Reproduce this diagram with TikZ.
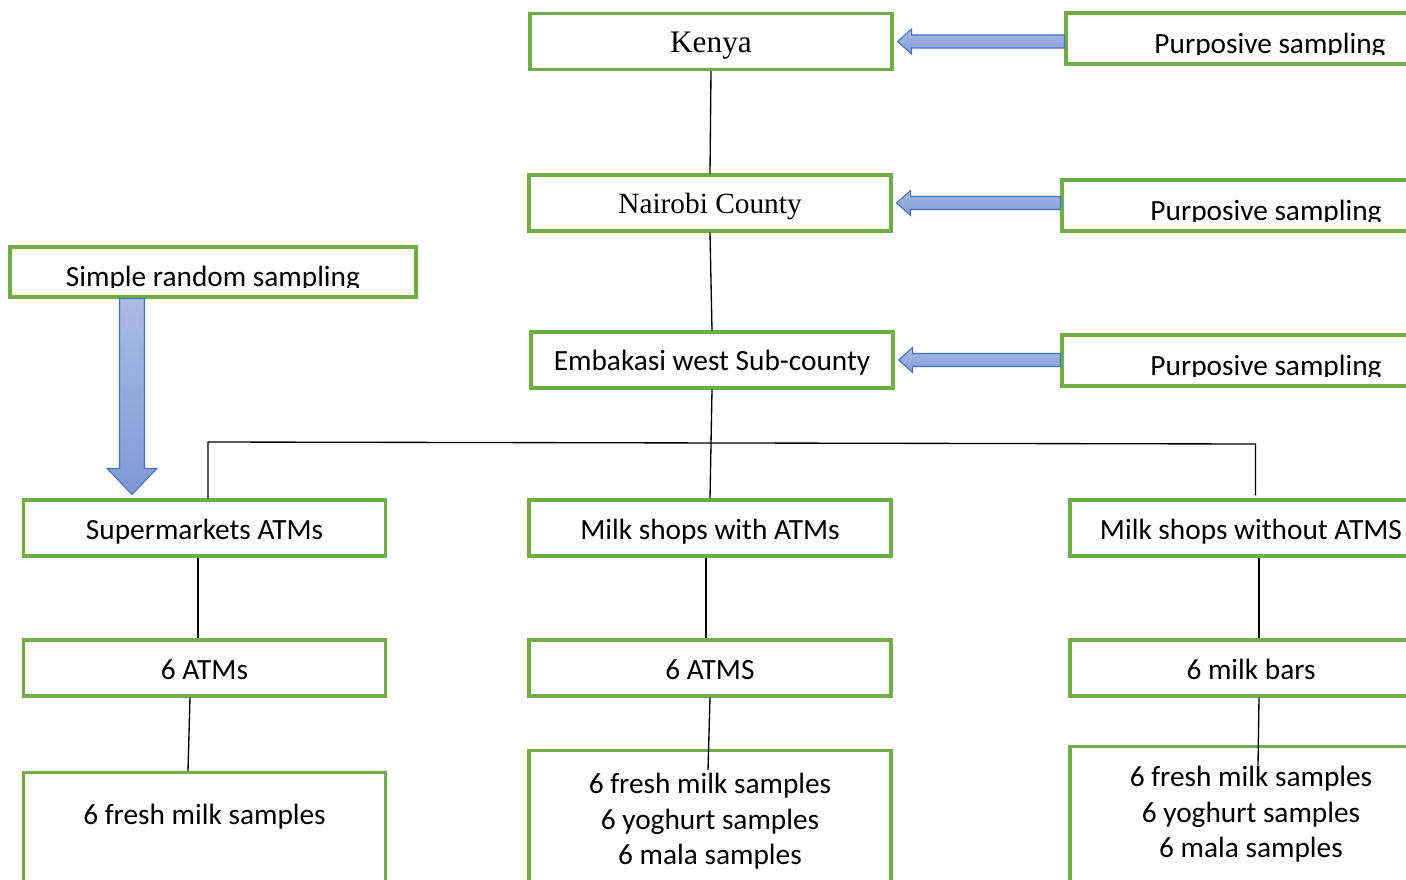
\documentclass[tikz,border=0pt]{standalone}
\usepackage{fontspec}
\setmainfont{Carlito}
\newfontfamily\timesfont{Liberation Serif}
\usepackage{xcolor}
\usetikzlibrary{positioning,calc}

\definecolor{boxgreen}{HTML}{70AD47}
\definecolor{arrowblue}{HTML}{4472C4}
\definecolor{arrowtop}{HTML}{ABBCE4}
\definecolor{arrowbot}{HTML}{8099D6}

% block arrow pointing left, from sampling box #1 to box #2
\newcommand{\leftblock}[2]{%
  \draw[blockarrow] (#1.west |- #2.east) ++(0,6.5) -- ($(#2.east)+(18,6.5)$) -- ++(0,6)
    -- ($(#2.east)+(4,0)$) -- ($(#2.east)+(18,-12.5)$) -- ++(0,6)
    -- ($(#1.west |- #2.east)+(0,-6.5)$) -- cycle;}

\begin{document}
\begin{tikzpicture}[
  x=0.75pt, y=-0.75pt,
  every node/.style={font=\fontsize{22}{26.6}\selectfont},
  box/.style={draw=boxgreen, line width=2.3pt, minimum width=271.5pt, minimum height=42pt,
    inner sep=0pt, text height=20.9pt, text depth=4.4pt},
  cutlabel/.style={path picture={
    \clip ([yshift=7.2pt]path picture bounding box.south west) rectangle (path picture bounding box.north east);
    \node[anchor=base] at ([yshift=7.9pt]path picture bounding box.south) {#1};}},
  samplebox/.style={draw=boxgreen, line width=2.3pt, minimum width=306pt, minimum height=38.25pt,
    inner sep=0pt, cutlabel=#1},
  bottombox/.style={draw=boxgreen, line width=2.3pt, minimum width=271.5pt, anchor=north,
    align=center, inner ysep=0pt, text depth=120pt},
  blockarrow/.style={draw=arrowblue, line width=0.8pt, top color=arrowtop, bottom color=arrowbot},
  link/.style={draw=black, line width=1pt}
]
\clip (0,0) rectangle (1406,880);

% levels of the sampling frame
\node[box, font=\fontsize{23.5}{26.6}\timesfont] (kenya) at (711,41.5) {Kenya};
\node[box, font=\fontsize{22}{26.6}\timesfont] (nairobi) at (710,203) {Nairobi County};
\node[box] (embakasi) at (712,360) {Embakasi west Sub-county};

\node[box] (super) at (204.5,528) {Supermarkets ATMs};
\node[box] (withatm) at (710,528) {Milk shops with ATMs};
\node[box] (noatm) at (1251,528) {Milk shops without ATMS};

\node[box] (atmsa) at (204.5,668) {6 ATMs};
\node[box] (atmsb) at (710,668) {6 ATMS};
\node[box] (bars) at (1251,668) {6 milk bars};

\node[bottombox, text height=39pt] (freshleft) at (204.5,771) {6 fresh milk samples};
\node[bottombox, text height=85.45pt] (freshmid) at (710,749)
  {6 fresh milk samples\\6 yoghurt samples\\6 mala samples};
\node[bottombox, text height=83.2pt] (freshright) at (1251,745)
  {6 fresh milk samples\\6 yoghurt samples\\6 mala samples};

% sampling methods
\node[samplebox=Purposive sampling] (purpa) at (1270,38.5) {};
\node[samplebox=Purposive sampling] (purpb) at (1266,205.5) {};
\node[samplebox=Purposive sampling] (purpc) at (1266,360.5) {};
\node[samplebox=Simple random sampling, minimum width=304.5pt, minimum height=37.5pt] (simple) at (213,272) {};

\leftblock{purpa}{kenya}
\leftblock{purpb}{nairobi}
\leftblock{purpc}{embakasi}

\coordinate (dtop) at ($(simple.south)+(-81,0)$);
\coordinate (dtip) at ($(super.north -| dtop)+(0,-4)$);
\draw[blockarrow] ($(dtop)+(-12.5,0)$) -- ($(dtip)+(-12.5,-26)$) -- ($(dtip)+(-25,-26)$) -- (dtip)
  -- ($(dtip)+(25,-26)$) -- ($(dtip)+(12.5,-26)$) -- ($(dtop)+(12.5,0)$) -- cycle;

% connectors
\draw[link] (kenya.south) -- (nairobi.north);
\draw[link] (nairobi.south) -- (embakasi.north);
\draw[link] (embakasi.south) -- (withatm.north);
\coordinate (busl) at (208,442);
\coordinate (busr) at (1255.5,444);
\draw[link] (super.north -| busl) -- (busl) -- (busr) -- ($(noatm.north -| busr)+(0,-3)$);

\draw[link] ($(super.south)+(-6.5,0)$) -- ($(atmsa.north)+(-6.5,0)$);
\draw[link] ($(withatm.south)+(-4,0)$) -- ($(atmsb.north)+(-4,0)$);
\draw[link] ($(noatm.south)+(8,0)$) -- ($(bars.north)+(8,0)$);

\draw[link] ($(atmsa.south)+(-14.5,0)$) -- ($(freshleft.north)+(-16.5,0)$);
\draw[link] (atmsb.south) -- ($(freshmid.north)+(-2,21)$);
\draw[link] ($(bars.south)+(8,0)$) -- ($(freshright.north)+(7,20)$);
\end{tikzpicture}
\end{document}
